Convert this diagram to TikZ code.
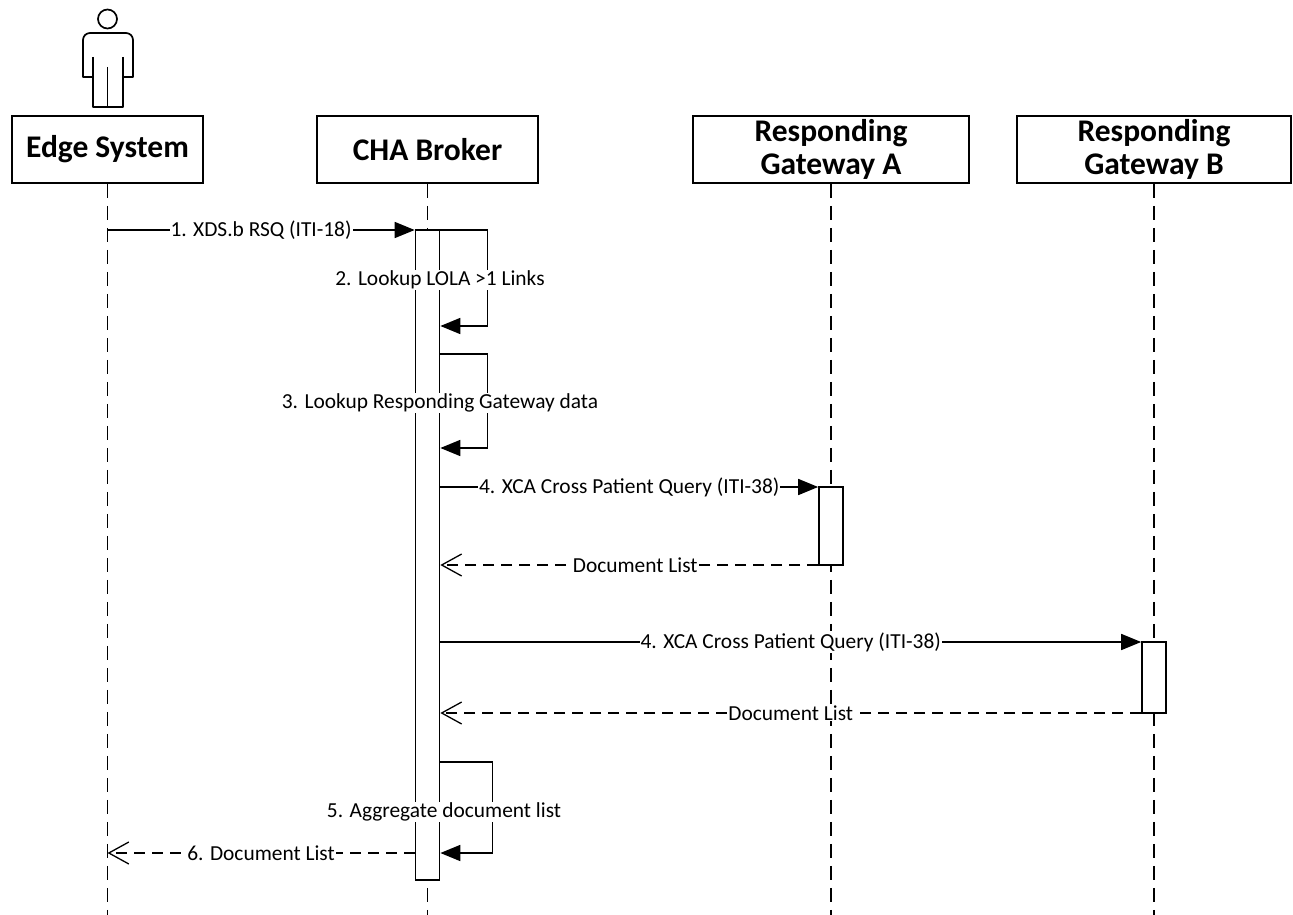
\documentclass[tikz,border=0pt]{standalone}
\usepackage{fontspec}
\setmainfont{Carlito}
\usetikzlibrary{arrows.meta}
\begin{document}
\begin{tikzpicture}[x=1pt,y=-1pt,
  hdr/.style={draw,line width=1.7pt,minimum height=67pt,inner sep=0pt,font=\fontsize{31.5}{33}\selectfont\bfseries,align=center},
  life/.style={line width=1.7pt,dash pattern=on 14pt off 8pt},
  bar/.style={draw,fill=white,line width=1.7pt,minimum width=24pt,inner sep=0pt},
  msg/.style={line width=1.7pt,-{Triangle[length=20pt,width=16pt]}},
  ret/.style={line width=1.7pt,dash pattern=on 11pt off 7pt,-{Straight Barb[length=20pt,width=22pt,line width=1.3pt]}},
  lbl/.style={fill=white,inner sep=1pt,font=\fontsize{21.4}{23}\selectfont},
  actor/.style={line width=1.7pt,line join=round}
]
\useasboundingbox (0,0) rectangle (1293,915);
% actor
\node[draw,circle,actor,minimum size=19pt,inner sep=0pt] (head) at (107.5,19) {};
\draw[actor] (93,107) -- (93,77) -- (83,77) -- (83,40) arc[start angle=180,end angle=270,radius=7] -- (126,33) arc[start angle=270,end angle=360,radius=7] -- (133,77) -- (123,77) -- (123,107) -- cycle;
\draw[actor] (93,57) -- (93,77) (123,57) -- (123,77) (107.5,67) -- (107.5,107);
% headers
\node[hdr,minimum width=191pt] (edge) at (107.5,149.5) {Edge System};
\node[hdr,minimum width=221pt] (cha) at (427.5,149.5) {CHA Broker};
\node[hdr,minimum width=276pt] (gwa) at (831,149.5) {Responding\\Gateway A};
\node[hdr,minimum width=274pt] (gwb) at (1154,149.5) {Responding\\Gateway B};
% lifelines
\coordinate (y0) at (0,915);
\draw[life] (edge.south) -- (edge.south |- y0);
\draw[life] (cha.south) -- (cha.south |- y0);
\draw[life] (gwa.south) -- (gwa.south |- y0);
\draw[life] (gwb.south) -- (gwb.south |- y0);
% activation bars
\node[bar,minimum height=650pt] (chabar) at (427.5,555) {};
\node[bar,minimum height=78pt] (abar) at (831,526) {};
\node[bar,minimum height=71pt] (bbar) at (1154,677.5) {};
% y levels
\coordinate (y1) at (0,230);
\coordinate (y2) at (0,326);
\coordinate (y3a) at (0,354);
\coordinate (y3b) at (0,448);
\coordinate (y4) at (0,487);
\coordinate (y4r) at (0,565);
\coordinate (y5) at (0,642);
\coordinate (y5r) at (0,713);
\coordinate (y6a) at (0,762);
\coordinate (y6b) at (0,853);
% 1
\draw[msg] (edge.south |- y1) -- node[lbl]{1. XDS.b RSQ (ITI-18)} (chabar.west |- y1);
% 2
\draw[msg] (chabar.east |- y1) -- ++(47,0) |- (chabar.east |- y2);
\node[lbl] (l2) at (440,280) {2. Lookup LOLA >1 Links};
% 3
\draw[msg] (chabar.east |- y3a) -- ++(47,0) |- (chabar.east |- y3b);
\node[lbl] (l3) at (440,403) {3. Lookup Responding Gateway data};
% 4a
\draw[msg] (chabar.east |- y4) -- node[lbl]{4. XCA Cross Patient Query (ITI-38)} (abar.west |- y4);
\draw[ret] (abar.west |- y4r) -- node[lbl,xshift=6pt]{Document List} (chabar.east |- y4r);
% 4b
\draw[msg] (chabar.east |- y5) -- node[lbl]{4. XCA Cross Patient Query (ITI-38)} (bbar.west |- y5);
\draw[ret] (bbar.west |- y5r) -- node[lbl]{Document List} (chabar.east |- y5r);
% 5
\draw[msg] (chabar.east |- y6a) -- ++(52,0) |- (chabar.east |- y6b);
\node[lbl] (l5) at (444,812) {5. Aggregate document list};
% 6
\draw[ret] (chabar.west |- y6b) -- node[lbl]{6. Document List} (edge.south |- y6b);
\end{tikzpicture}
\end{document}
